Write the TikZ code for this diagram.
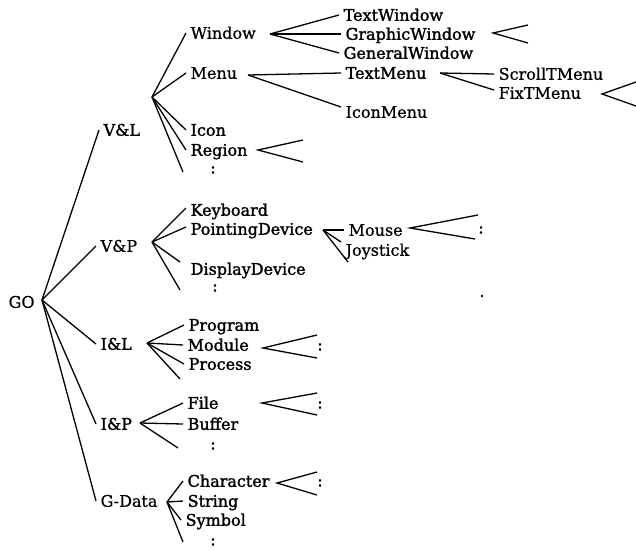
\documentclass[tikz,border=0pt]{standalone}
\usepackage{fontspec}
\setmainfont{DejaVu Serif}
\newfontfamily\heavy{DejaVu Serif}[FakeBold=1.6]
\newfontfamily\medium{DejaVu Serif}[FakeBold=0.7]
\begin{document}
\begin{tikzpicture}[x=1pt,y=-1pt,line width=1.3pt,
  lbl/.style={anchor=west,inner xsep=4pt,inner ysep=0pt,text height=11.5pt,text depth=0pt,font=\fontsize{16}{16}\medium},
  blbl/.style={lbl,font=\fontsize{16}{16}\heavy},
  dotsym/.style={inner sep=0pt,font=\fontsize{16}{16}\heavy}]
\useasboundingbox (0,0) rectangle (636,549);
% level 0
\node[lbl] (go) at (4,302) {GO};
\coordinate (goA) at (42,300);
% level 1
\node[blbl] (vl) at (99,130) {V\&L};
\node[lbl] (vp) at (96,246) {V\&P};
\node[blbl] (il) at (96,344) {I\&L};
\node[blbl] (ip) at (96,424) {I\&P};
\node[lbl] (gd) at (96,501) {G-Data};
\foreach \t in {vl,vp,il,ip,gd} \draw (goA) -- (\t.west);
% V&L
\coordinate (vlA) at (152,97);
\node[lbl] (win) at (186,33) {Window};
\node[lbl] (menu) at (186,73) {Menu};
\node[blbl] (icon) at (186,130) {Icon};
\node[blbl] (region) at (186,150) {Region};
\coordinate (vlE) at (183,172);
\node[dotsym] (vlD) at (213,170) {:};
\foreach \t in {win,menu,icon,region} \draw (vlA) -- (\t.west);
\draw (vlA) -- (vlE);
% Window
\coordinate (winA) at (270,34);
\node[blbl] (tw) at (339,15) {TextWindow};
\node[blbl] (gw) at (341,34) {GraphicWindow};
\node[blbl] (genw) at (339,53) {GeneralWindow};
\foreach \t in {tw,gw,genw} \draw (winA) -- (\t.west);
\coordinate (gwA) at (493,33);
\coordinate (gwE1) at (528,25);
\coordinate (gwE2) at (528,43);
\draw (gwE1) -- (gwA) -- (gwE2);
% Menu
\coordinate (menuA) at (248,75);
\node[blbl] (tm) at (341,73) {TextMenu};
\node[lbl] (im) at (341,112) {IconMenu};
\draw (menuA) -- (tm.west);
\draw (menuA) -- ([yshift=5pt]im.west);
\coordinate (tmA) at (440,73);
\node[lbl] (stm) at (494,74) {ScrollTMenu};
\node[lbl] (ftm) at (494,93) {FixTMenu};
\draw (tmA) -- (stm.west);
\draw (tmA) -- ([yshift=3pt]ftm.west);
\coordinate (ftmA) at (602,94);
\coordinate (ftmE1) at (636,82);
\coordinate (ftmE2) at (636,106);
\draw (ftmE1) -- (ftmA) -- (ftmE2);
% Region
\coordinate (regA) at (258,150);
\coordinate (regE1) at (303,140);
\coordinate (regE2) at (303,162);
\draw (regE1) -- (regA) -- (regE2);
% V&P
\coordinate (vpA) at (152,242);
\node[blbl] (kb) at (186,210) {Keyboard};
\node[blbl] (pd) at (186,229) {PointingDevice};
\node[blbl] (dd) at (186,269) {DisplayDevice};
\coordinate (vpE) at (180,290);
\node[dotsym] (vpD) at (215,288) {:};
\draw (vpA) -- ([yshift=2pt]kb.west);
\draw (vpA) -- ([yshift=2pt]pd.west);
\draw (vpA) -- ([xshift=-6pt,yshift=7pt]dd.west);
\draw (vpA) -- (vpE);
% PointingDevice
\coordinate (pdA) at (323,230);
\node[lbl] (mouse) at (344,230) {Mouse};
\node[lbl] (joy) at (341,250) {Joystick};
\coordinate (pdE) at (348,262);
\draw (pdA) -- (mouse.west);
\draw (pdA) -- ([yshift=8pt]joy.west);
\draw (pdA) -- (pdE);
\coordinate (mouseA) at (410,228);
\coordinate (mouseE1) at (478,215);
\coordinate (mouseE2) at (475,239);
\node[dotsym] (mouseD) at (481,230) {:};
\draw (mouseE1) -- (mouseA) -- (mouseE2);
\fill (482,296) circle (1.3pt);
% I&L
\coordinate (ilA) at (147,343);
\node[blbl] (prog) at (184,325) {Program};
\node[blbl] (mod) at (183,345) {Module};
\node[blbl] (proc) at (184,364) {Process};
\coordinate (ilE) at (180,379);
\foreach \t in {prog,mod,proc} \draw (ilA) -- (\t.west);
\draw (ilA) -- (ilE);
\coordinate (modA) at (263,348);
\coordinate (modE1) at (317,335);
\coordinate (modE2) at (317,358);
\node[dotsym] (modD) at (320,347) {:};
\draw (modE1) -- (modA) -- (modE2);
% I&P
\coordinate (ipA) at (140,423);
\node[blbl] (file) at (183,403) {File};
\node[blbl] (buf) at (183,424) {Buffer};
\coordinate (ipE) at (178,448);
\node[dotsym] (ipD) at (213,446) {:};
\foreach \t in {file,buf} \draw (ipA) -- (\t.west);
\draw (ipA) -- (ipE);
\coordinate (fileA) at (262,403);
\coordinate (fileE1) at (317,393);
\coordinate (fileE2) at (317,415);
\node[dotsym] (fileD) at (320,405) {:};
\draw (fileE1) -- (fileA) -- (fileE2);
% G-Data
\coordinate (gdA) at (167,502);
\node[blbl] (char) at (183,481) {Character};
\node[blbl] (str) at (183,501) {String};
\node[blbl] (sym) at (181,520) {Symbol};
\coordinate (gdE) at (183,542);
\node[dotsym] (gdD) at (213,542) {:};
\foreach \t in {char,str,sym} \draw (gdA) -- (\t.west);
\draw (gdA) -- (gdE);
\coordinate (charA) at (277,483);
\coordinate (charE1) at (317,472);
\coordinate (charE2) at (317,495);
\node[dotsym] (charD) at (320,483) {:};
\draw (charE1) -- (charA) -- (charE2);
\end{tikzpicture}
\end{document}
